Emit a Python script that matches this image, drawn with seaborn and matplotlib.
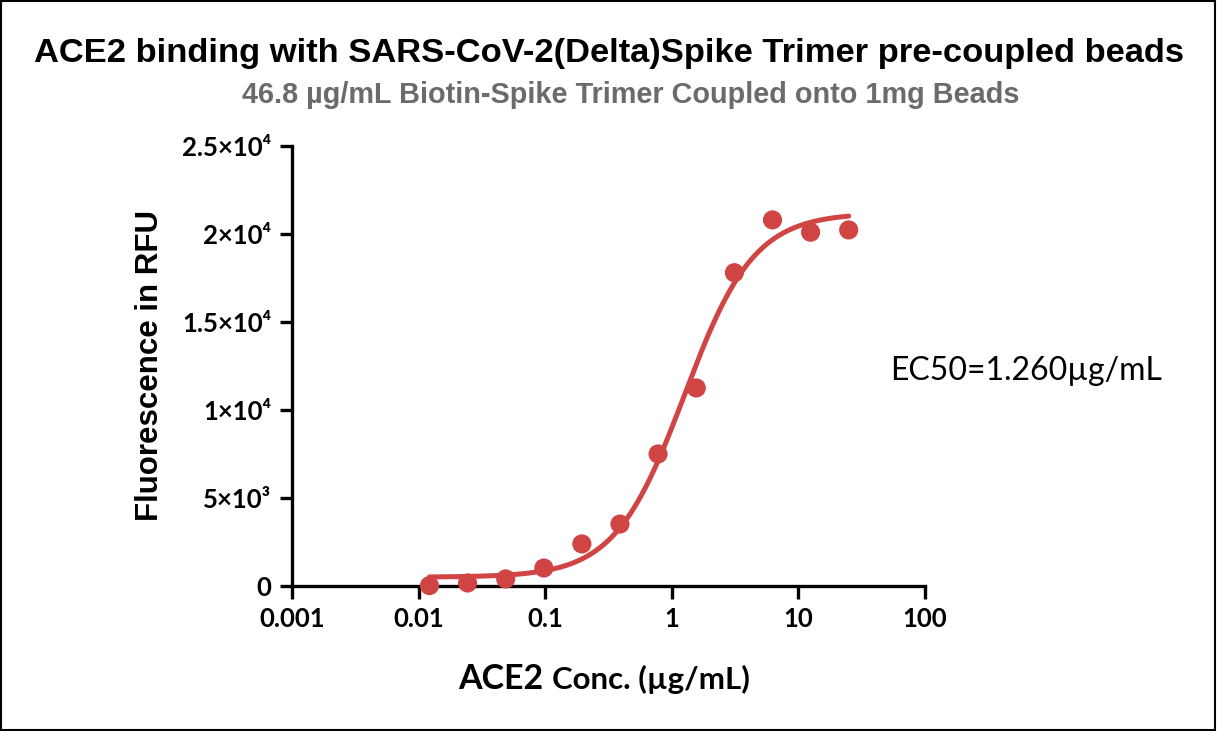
import numpy as np
import pandas as pd
import matplotlib
matplotlib.use("Agg")
import matplotlib.pyplot as plt
import seaborn as sns

# measured points
conc = [0.0122, 0.0244, 0.0488, 0.0977, 0.195, 0.39, 0.78, 1.5625, 3.125, 6.25, 12.5, 25]
rfu = [20, 170, 400, 1020, 2390, 3520, 7500, 11250, 17800, 20800, 20100, 20230]

# 4PL fit parameters
bottom = 500
top = 21200
ec50 = 1.26
hill = 1.58

xticks = [0.001, 0.01, 0.1, 1, 10, 100]
xticklabels = ["0.001", "0.01", "0.1", "1", "10", "100"]
yticks = [0, 5000, 10000, 15000, 20000, 25000]
yticklabels = ["0", "5×10³", "1×10⁴", "1.5×10⁴", "2×10⁴", "2.5×10⁴"]

red = "#D04444"
df = pd.DataFrame({"conc": conc, "rfu": rfu})

xfit = np.logspace(np.log10(conc[0]), np.log10(conc[-1]), 200)
yfit = bottom + (top - bottom) / (1 + (ec50 / xfit) ** hill)
fit = pd.DataFrame({"conc": xfit, "rfu": yfit})

sns.set_style("ticks")
plt.rcParams["font.family"] = ["Lato", "DejaVu Sans"]
plt.rcParams["text.color"] = "black"
plt.rcParams["xtick.color"] = "black"
plt.rcParams["ytick.color"] = "black"
plt.rcParams["axes.labelcolor"] = "black"

fig = plt.figure(figsize=(12.17, 7.31), dpi=100)
ax = fig.add_axes([0.2399, 0.1984, 0.5201, 0.6019])

sns.lineplot(data=fit, x="conc", y="rfu", ax=ax, color=red, lw=3.6, zorder=2)
sns.scatterplot(data=df, x="conc", y="rfu", ax=ax, color=red, s=190, edgecolor="none", zorder=3, clip_on=False)

ax.set_xscale("log")
ax.set_xlim(0.001, 100)
ax.set_ylim(0, 25000)
ax.set_xticks(xticks)
ax.set_xticklabels(xticklabels)
ax.set_yticks(yticks)
ax.set_yticklabels(yticklabels)
ax.minorticks_off()
for lab in ax.get_xticklabels() + ax.get_yticklabels():
    lab.set_fontweight("bold")
    lab.set_fontsize(18.5)
ax.tick_params(width=2.4, length=9, color="black", pad=6)
sns.despine(ax=ax)
for s in ["left", "bottom"]:
    ax.spines[s].set_linewidth(2.4)
    ax.spines[s].set_color("black")

ax.set_xlabel("")
ax.set_ylabel("Fluorescence in RFU", fontsize=22.5, fontweight="bold",
              family=["Liberation Sans", "DejaVu Sans"], labelpad=12)

fig.text(0.3763, 0.058, "ACE2", fontsize=24.5, fontweight="bold", ha="left", va="baseline")
fig.text(0.4536, 0.058, "Conc. (µg/mL)", fontsize=22.5, fontweight="bold", ha="left", va="baseline")

fig.text(0.5, 0.915, "ACE2 binding with SARS-CoV-2(Delta)Spike Trimer pre-coupled beads",
         ha="center", fontsize=24.8, fontweight="bold", family=["Liberation Sans", "DejaVu Sans"])
fig.text(0.5185, 0.859, "46.8 µg/mL Biotin-Spike Trimer Coupled onto 1mg Beads",
         ha="center", fontsize=20.8, fontweight="bold", color="#6b6b6b",
         family=["Liberation Sans", "DejaVu Sans"])

fig.text(0.731, 0.492, "EC50=1.260µg/mL", fontsize=23, ha="left", va="center")

fig.patches.append(plt.Rectangle((0.001, 0.002), 0.997, 0.996, transform=fig.transFigure,
                                 fill=False, edgecolor="black", lw=1.5))

fig.savefig("out.png", dpi=100)
